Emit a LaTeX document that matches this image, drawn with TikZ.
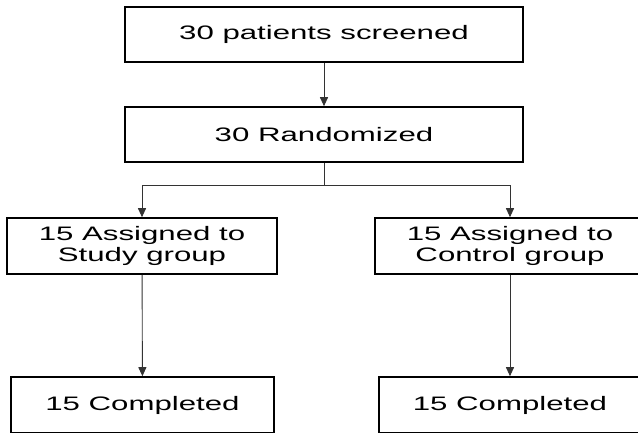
\documentclass[tikz,border=0pt]{standalone}
\usepackage{fontspec}
\setmainfont{Liberation Sans}[FakeStretch=1.6]
\usetikzlibrary{arrows.meta}
\tikzset{
  stepbox/.style={draw,line width=1.6pt,minimum height=55pt,inner sep=0pt,align=center,
    font=\fontsize{19.5}{21}\selectfont},
  link/.style={draw=black!80,line width=0.9pt,-{Triangle[length=9pt,width=8pt]}}
}
\begin{document}
\begin{tikzpicture}[x=1pt,y=1pt]
\clip (0,0) rectangle (638,432);
\node[stepbox,minimum width=398pt] (screened) at (324,397.5) {30 patients screened};
\node[stepbox,minimum width=398pt] (randomized) at (324,297.5) {30 Randomized};
\node[stepbox,minimum width=270pt,minimum height=56pt] (study) at (142,186) {15 Assigned to\\Study group};
\node[stepbox,minimum width=270pt,minimum height=56pt] (control) at (510,186) {15 Assigned to\\Control group};
\node[stepbox,minimum width=263pt,minimum height=56pt] (studydone) at (142.5,27) {15 Completed};
\node[stepbox,minimum width=262pt,minimum height=56pt] (controldone) at (510,27) {15 Completed};
\coordinate (split) at (324,247);
\draw[link] (screened) -- (randomized);
\draw[draw=black!80,line width=0.9pt] (randomized) -- (split);
\draw[link] (split) -| (study.north);
\draw[link] (split) -| (control.north);
\draw[link] (study) -- (studydone);
\draw[link] (control) -- (controldone);
\end{tikzpicture}
\end{document}
